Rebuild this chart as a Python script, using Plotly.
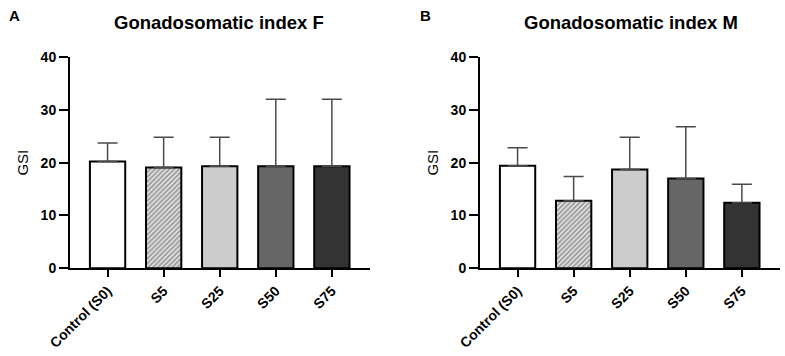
import plotly.graph_objects as go

categories = ["Control (S0)", "S5", "S25", "S50", "S75"]
gsi_f_mean = [20.2, 19.1, 19.3, 19.3, 19.3]
gsi_f_upper = [23.7, 24.8, 24.8, 32.0, 32.0]
gsi_m_mean = [19.4, 12.8, 18.7, 17.0, 12.4]
gsi_m_upper = [22.8, 17.4, 24.8, 26.8, 15.9]
y_ticks = [0, 10, 20, 30, 40]

fills = ["#ffffff", "#ffffff", "#cccccc", "#666666", "#333333"]
shapes = ["", "/", "", "", ""]

FONT = "Liberation Sans, Arial, Helvetica, sans-serif"

fig = go.Figure()

def add_panel(means, uppers, xa, ya):
    fig.add_trace(go.Bar(
        x=categories, y=means, xaxis=xa, yaxis=ya,
        width=0.63,
        marker=dict(color=fills, line=dict(color="#000000", width=2),
                    pattern=dict(shape=shapes, fgcolor="#000000", bgcolor="#ffffff",
                                 size=3.4, solidity=0.7)),
        error_y=dict(type="data", symmetric=False,
                     array=[u - m for u, m in zip(uppers, means)],
                     arrayminus=[0] * len(means),
                     color="#4a4a4a", thickness=1.5, width=10),
        showlegend=False,
    ))

add_panel(gsi_f_mean, gsi_f_upper, "x", "y")
add_panel(gsi_m_mean, gsi_m_upper, "x2", "y2")

ydom = [(356 - 268.3) / 356, (356 - 57) / 356]
xcommon = dict(showline=True, linecolor="#000000", linewidth=2, ticks="outside",
               ticklen=7, tickwidth=2, tickcolor="#000000", tickangle=-45,
               tickfont=dict(family=FONT, size=14, color="#000000", weight="bold"),
               range=[-0.67, 4.68], showgrid=False, zeroline=False, automargin=False)
ycommon = dict(showline=True, linecolor="#000000", linewidth=2, ticks="outside",
               ticklen=9, tickwidth=2, tickcolor="#000000",
               tickfont=dict(family=FONT, size=14, color="#000000", weight="bold"),
               range=[0, 40], tickvals=y_ticks, showgrid=False, zeroline=False,
               automargin=False,
               title=dict(text="GSI", font=dict(family=FONT, size=15, color="#000000"),
                          standoff=8))

fig.update_layout(
    width=785, height=356,
    margin=dict(l=0, r=0, t=0, b=0),
    paper_bgcolor="#ffffff", plot_bgcolor="#ffffff",
    xaxis=dict(domain=[70 / 785, 370 / 785], anchor="y", **xcommon),
    yaxis=dict(domain=ydom, anchor="x", **ycommon),
    xaxis2=dict(domain=[480 / 785, 780 / 785], anchor="y2", **xcommon),
    yaxis2=dict(domain=ydom, anchor="x2", **ycommon),
    annotations=[
        dict(text="<b>Gonadosomatic index F</b>", x=219 / 785, y=1 - 23 / 356,
             xref="paper", yref="paper", xanchor="center", yanchor="middle",
             showarrow=False, font=dict(family=FONT, size=18.5, color="#000000")),
        dict(text="<b>Gonadosomatic index M</b>", x=631 / 785, y=1 - 23 / 356,
             xref="paper", yref="paper", xanchor="center", yanchor="middle",
             showarrow=False, font=dict(family=FONT, size=18.5, color="#000000")),
        dict(text="<b>A</b>", x=14 / 785, y=1 - 15 / 356, xref="paper", yref="paper",
             xanchor="center", yanchor="middle",
             showarrow=False, font=dict(family=FONT, size=15, color="#000000")),
        dict(text="<b>B</b>", x=425 / 785, y=1 - 15 / 356, xref="paper", yref="paper",
             xanchor="center", yanchor="middle",
             showarrow=False, font=dict(family=FONT, size=15, color="#000000")),
    ],
)

fig.write_html("out.html")
